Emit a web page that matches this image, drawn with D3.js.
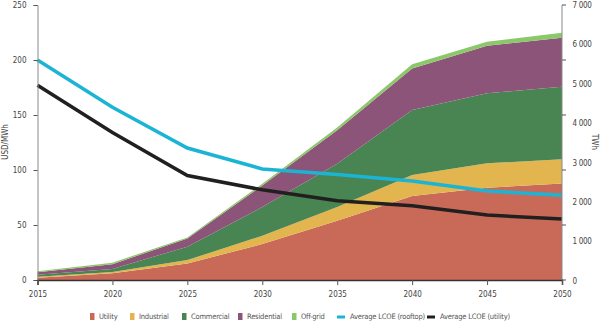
<!DOCTYPE html>
<html>
<head>
<meta charset="utf-8">
<script src="https://cdn.jsdelivr.net/npm/d3@7"></script>
<style>
  body { margin: 0; background: #fff; }
  text { font-family: "DejaVu Sans Condensed", "DejaVu Sans", sans-serif; font-stretch: condensed; }
</style>
</head>
<body>
<div id="chart-container"></div>
<script>
var years = [2015, 2020, 2025, 2030, 2035, 2040, 2045, 2050];

// generation by segment, TWh
var utility     = [60, 170, 420, 910, 1500, 2130, 2340, 2450];
var industrial  = [25, 35, 85, 210, 350, 530, 620, 610];
var commercial  = [50, 75, 340, 730, 1100, 1650, 1775, 1840];
var residential = [60, 120, 210, 545, 850, 1055, 1205, 1245];
var offGrid     = [25, 40, 25, 45, 70, 110, 100, 125];

// average LCOE, USD/MWh
var lcoeRooftop = [200, 157, 120, 101, 96, 90, 81, 77];
var lcoeUtility = [177, 134, 95, 82, 72, 67.5, 59, 55.5];

var leftTicks = [0, 50, 100, 150, 200, 250];
var rightTicks = [0, 1000, 2000, 3000, 4000, 5000, 6000, 7000];

var seriesNames = ["Utility", "Industrial", "Commercial", "Residential", "Off-grid"];
var seriesColors = ["#c96a59", "#e2b54e", "#488553", "#8d5479", "#8bc86a"];

var width = 600;
var height = 324;

var x = d3.scaleLinear()
    .domain([2015, 2050])
    .range([37.5, 562]);

var yL = d3.scaleLinear()
    .domain([0, 250])
    .range([280, 5]);

var yR = d3.scaleLinear()
    .domain([0, 7000])
    .range([280, 4]);

var rows = years.map(function(yr, i) {
  return {
    year: yr,
    "Utility": utility[i],
    "Industrial": industrial[i],
    "Commercial": commercial[i],
    "Residential": residential[i],
    "Off-grid": offGrid[i]
  };
});

var stacked = d3.stack().keys(seriesNames)(rows);

var svg = d3.select("#chart-container")
    .append("svg")
    .attr("width", width)
    .attr("height", height);

var area = d3.area()
    .x(function(d) { return x(d.data.year); })
    .y0(function(d) { return yR(d[0]); })
    .y1(function(d) { return yR(d[1]); });

svg.selectAll("path.layer")
    .data(stacked)
    .enter().append("path")
    .attr("class", "layer")
    .attr("d", area)
    .attr("fill", function(d, i) { return seriesColors[i]; });

// LCOE lines on the left scale
var line = d3.line()
    .x(function(d, i) { return x(years[i]); })
    .y(function(d) { return yL(d); });

svg.append("path")
    .attr("d", line(lcoeRooftop))
    .attr("fill", "none")
    .attr("stroke", "#1cb4d4")
    .attr("stroke-width", 3.5);

svg.append("path")
    .attr("d", line(lcoeUtility))
    .attr("fill", "none")
    .attr("stroke", "#221f1f")
    .attr("stroke-width", 3.5);

// left axis
var left = svg.append("g")
    .attr("transform", "translate(37.5,0)")
    .call(d3.axisLeft(yL).tickValues(leftTicks).tickSize(4).tickPadding(7));
left.select(".domain").attr("stroke", "#8a8a8a");
left.selectAll(".tick line").attr("stroke", "#555");
left.selectAll("text").attr("font-size", 8).attr("fill", "#444");

// right axis: marks follow the left scale, labels follow the TWh scale
var right = svg.append("g")
    .attr("transform", "translate(562,0)");
right.append("line")
    .attr("y1", yL(250)).attr("y2", yL(0))
    .attr("stroke", "#8a8a8a");
right.selectAll("line.tk")
    .data(leftTicks)
    .enter().append("line")
    .attr("class", "tk")
    .attr("x1", 0).attr("x2", 4)
    .attr("y1", function(d) { return yL(d); })
    .attr("y2", function(d) { return yL(d); })
    .attr("stroke", "#555");
right.selectAll("text")
    .data(rightTicks)
    .enter().append("text")
    .attr("x", 10.5)
    .attr("y", function(d) { return yR(d) + 1; })
    .attr("dy", "0.35em")
    .attr("font-size", 8)
    .attr("letter-spacing", -0.3)
    .attr("fill", "#444")
    .text(function(d) { return d === 0 ? "0" : d3.format(",")(d).replace(",", " "); });

// bottom axis
var bottom = svg.append("g")
    .attr("transform", "translate(0,280)")
    .call(d3.axisBottom(x).tickValues(years).tickFormat(d3.format("d")).tickSize(5).tickPadding(6));
bottom.select(".domain").attr("stroke", "#333").attr("stroke-width", 1.5);
bottom.selectAll(".tick line").attr("stroke", "#555");
bottom.selectAll("text").attr("font-size", 8).attr("fill", "#444");

// axis titles
svg.append("text")
    .attr("transform", "translate(8,142) rotate(-90)")
    .attr("text-anchor", "middle")
    .attr("font-size", 8)
    .attr("fill", "#444")
    .text("USD/MWh");

svg.append("text")
    .attr("transform", "translate(592,142) rotate(90)")
    .attr("text-anchor", "middle")
    .attr("font-size", 8)
    .attr("fill", "#444")
    .text("TWh");

// legend
var legendX = [90, 130, 182, 238, 292];
var legend = svg.append("g");
seriesNames.forEach(function(name, i) {
  legend.append("rect")
      .attr("x", legendX[i])
      .attr("y", 313)
      .attr("width", 4.5)
      .attr("height", 7)
      .attr("fill", seriesColors[i]);
  legend.append("text")
      .attr("x", legendX[i] + 9)
      .attr("y", 316.5)
      .attr("dy", "0.35em")
      .attr("font-size", 7.5)
      .attr("letter-spacing", -0.2)
      .attr("fill", "#555")
      .text(name);
});

var lineLegend = [
  { name: "Average LCOE (rooftop)", color: "#1cb4d4", x: 337 },
  { name: "Average LCOE (utility)", color: "#221f1f", x: 427 }
];
lineLegend.forEach(function(d) {
  legend.append("line")
      .attr("x1", d.x).attr("x2", d.x + 8)
      .attr("y1", 317).attr("y2", 317)
      .attr("stroke", d.color)
      .attr("stroke-width", 3);
  legend.append("text")
      .attr("x", d.x + 13)
      .attr("y", 316.5)
      .attr("dy", "0.35em")
      .attr("font-size", 7.5)
      .attr("letter-spacing", -0.2)
      .attr("fill", "#555")
      .text(d.name);
});
</script>
</body>
</html>
